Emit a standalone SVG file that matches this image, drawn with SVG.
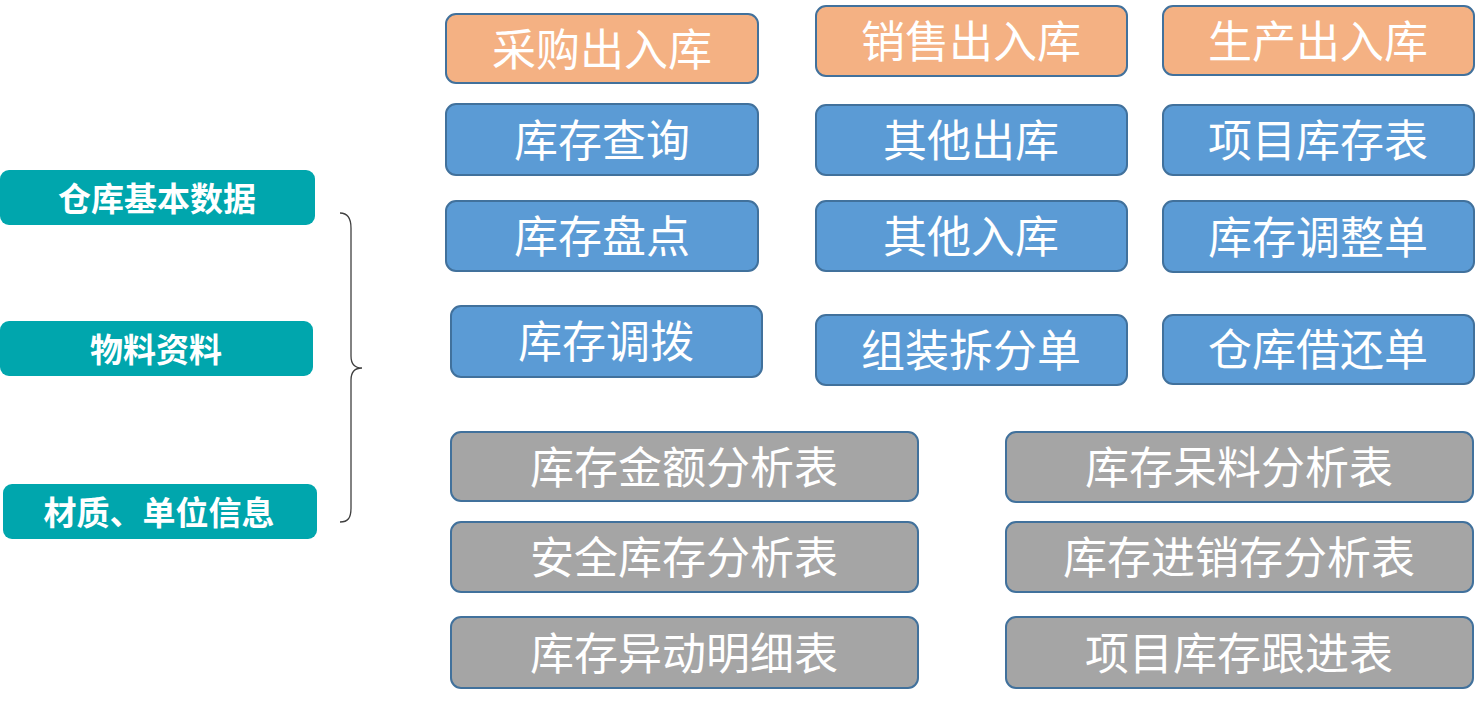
<svg xmlns="http://www.w3.org/2000/svg" width="1475" height="706" viewBox="0 0 1475 706">
<style>
.b rect{stroke:#41719C;stroke-width:2}
.o rect{fill:#F4B183}
.u rect{fill:#5B9BD5}
.g rect{fill:#A5A5A5}
.b text{font-family:"Noto Sans CJK SC","Microsoft YaHei",sans-serif;font-size:44px;fill:#FFFFFF;text-anchor:middle}
.t rect{fill:#00A6AD}
.t text{font-family:"Noto Sans CJK SC",sans-serif;font-size:33px;font-weight:bold;fill:#FFFFFF;text-anchor:middle}
</style>
<rect width="1475" height="706" fill="#FFFFFF"/>
<g id="n-base" class="t"><rect x="0" y="170" width="315" height="55" rx="9"/><text x="157" y="211">仓库基本数据</text></g>
<g id="n-material" class="t"><rect x="0" y="321" width="313" height="55" rx="9"/><text x="156" y="362">物料资料</text></g>
<g id="n-unit" class="t"><rect x="3" y="484" width="314" height="55" rx="9"/><text x="159" y="525">材质、单位信息</text></g>
<g id="connectors"><path d="M340,213 C348,213 351,218 351,228 L351,356 C351,364 355,368 362,368 C355,368 351,372 351,380 L351,508 C351,518 348,522 340,522" fill="none" stroke="#404040" stroke-width="1.3"/></g>
<g id="n1" class="b o"><rect x="446" y="14" width="312" height="69" rx="10"/><text x="602" y="66">采购出入库</text></g>
<g id="n2" class="b o"><rect x="816" y="6" width="311" height="70" rx="10"/><text x="971" y="58">销售出入库</text></g>
<g id="n3" class="b o"><rect x="1163" y="6" width="311" height="69" rx="10"/><text x="1318" y="58">生产出入库</text></g>
<g id="n4" class="b u"><rect x="446" y="104" width="312" height="71" rx="10"/><text x="602" y="157">库存查询</text></g>
<g id="n5" class="b u"><rect x="816" y="105" width="311" height="70" rx="10"/><text x="971" y="157">其他出库</text></g>
<g id="n6" class="b u"><rect x="1163" y="105" width="311" height="70" rx="10"/><text x="1318" y="157">项目库存表</text></g>
<g id="n7" class="b u"><rect x="446" y="201" width="312" height="70" rx="10"/><text x="602" y="253">库存盘点</text></g>
<g id="n8" class="b u"><rect x="816" y="201" width="311" height="70" rx="10"/><text x="971" y="253">其他入库</text></g>
<g id="n9" class="b u"><rect x="1163" y="201" width="311" height="71" rx="10"/><text x="1318" y="254">库存调整单</text></g>
<g id="n10" class="b u"><rect x="451" y="306" width="311" height="71" rx="10"/><text x="606" y="358">库存调拨</text></g>
<g id="n11" class="b u"><rect x="816" y="315" width="311" height="70" rx="10"/><text x="971" y="367">组装拆分单</text></g>
<g id="n12" class="b u"><rect x="1163" y="315" width="311" height="69" rx="10"/><text x="1318" y="366">仓库借还单</text></g>
<g id="n13" class="b g"><rect x="451" y="432" width="467" height="69" rx="10"/><text x="684" y="484">库存金额分析表</text></g>
<g id="n14" class="b g"><rect x="451" y="522" width="467" height="70" rx="10"/><text x="684" y="574">安全库存分析表</text></g>
<g id="n15" class="b g"><rect x="451" y="617" width="467" height="71" rx="10"/><text x="684" y="670">库存异动明细表</text></g>
<g id="n16" class="b g"><rect x="1006" y="432" width="467" height="70" rx="10"/><text x="1239" y="484">库存呆料分析表</text></g>
<g id="n17" class="b g"><rect x="1006" y="522" width="467" height="70" rx="10"/><text x="1239" y="574">库存进销存分析表</text></g>
<g id="n18" class="b g"><rect x="1006" y="617" width="467" height="71" rx="10"/><text x="1239" y="670">项目库存跟进表</text></g>
</svg>
